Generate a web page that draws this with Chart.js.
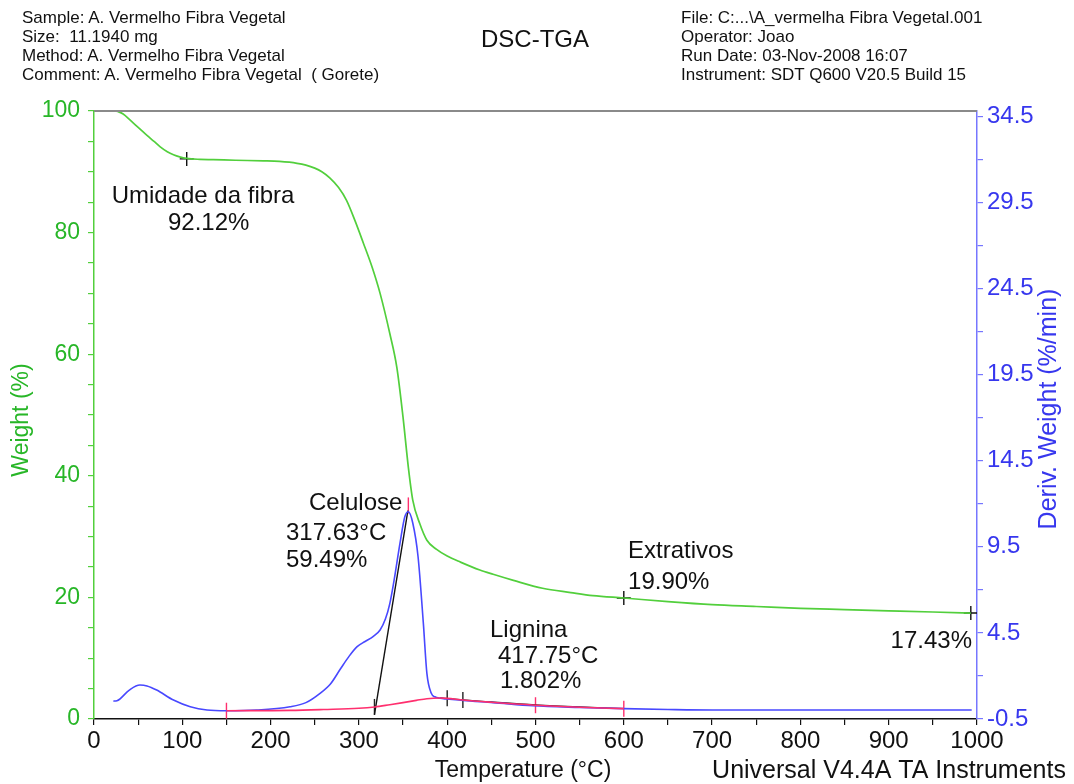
<!DOCTYPE html>
<html><head><meta charset="utf-8">
<script src="https://cdn.jsdelivr.net/npm/chart.js@4"></script>
<style>
html,body{margin:0;padding:0;background:#fff;}
#wrap{position:relative;width:1074px;height:784px;overflow:hidden;}
canvas{position:absolute;left:0;top:0;}
.hdr{position:absolute;font-family:"Liberation Sans",Arial,sans-serif;font-size:17px;line-height:19px;color:#111;white-space:pre;}
.ttl{position:absolute;font-family:"Liberation Sans",Arial,sans-serif;font-size:24px;color:#111;}
</style></head><body>
<div id="wrap">
<canvas id="c" width="1074" height="784"></canvas>
<div class="hdr" style="left:22px;top:8px">Sample: A. Vermelho Fibra Vegetal
Size:  11.1940 mg
Method: A. Vermelho Fibra Vegetal
Comment: A. Vermelho Fibra Vegetal  ( Gorete)</div>
<div class="ttl" style="left:481px;top:25px">DSC-TGA</div>
<div class="hdr" style="left:681px;top:8px">File: C:...\A_vermelha Fibra Vegetal.001
Operator: Joao
Run Date: 03-Nov-2008 16:07
Instrument: SDT Q600 V20.5 Build 15</div>
</div>
<script>
// ---- Data ----
const tgaTemp   = [24, 28, 33, 41, 50, 60, 68, 75, 83, 90, 97, 105, 120, 135, 160, 192, 210, 230, 240, 250, 258, 267, 277, 286, 296, 305, 315, 324, 335, 343, 350, 356, 361, 369, 377, 388, 400, 415, 437, 452, 475, 508, 540, 565, 600, 650, 700, 750, 800, 850, 900, 950, 993];
const tgaWeight = [100.0, 99.85, 99.5, 98.5, 97.3, 96.0, 95.0, 94.1, 93.3, 92.8, 92.45, 92.2, 92.05, 92.0, 91.9, 91.8, 91.7, 91.4, 91.1, 90.6, 90.0, 89.0, 87.4, 85.3, 81.8, 78.3, 74.3, 70.0, 63.4, 57.8, 49.6, 41.4, 36.0, 32.1, 29.4, 27.9, 26.8, 25.8, 24.5, 23.8, 22.8, 21.5, 20.8, 20.3, 19.9, 19.3, 18.8, 18.5, 18.2, 18.0, 17.8, 17.6, 17.43];

const dtgTemp  = [22, 26, 40, 52, 60, 71, 90, 109, 128, 150, 184, 222, 240, 256, 268, 279, 289, 298, 307, 316, 324, 330, 335, 340, 346.5, 352, 356, 361, 367, 373, 377, 382, 386, 392, 400, 418, 452, 497, 550, 600, 650, 700, 800, 900, 994];
const dtgValue = [0.54, 0.56, 1.18, 1.47, 1.42, 1.18, 0.60, 0.21, 0.02, -0.02, 0.02, 0.21, 0.45, 0.99, 1.55, 2.4, 3.15, 3.70, 4.0, 4.28, 4.67, 5.3, 6.2, 7.6, 9.7, 11.24, 11.53, 10.88, 8.92, 5.05, 2.15, 0.99, 0.79, 0.70, 0.66, 0.57, 0.45, 0.27, 0.17, 0.10, 0.05, 0.02, 0.02, 0.02, 0.02];

const baseTemp  = [150, 222, 260, 300, 318, 335, 350, 365, 377, 392, 400, 418, 450, 500, 550, 600];
const baseValue = [-0.02, 0.0, 0.05, 0.12, 0.2, 0.33, 0.45, 0.58, 0.68, 0.72, 0.70, 0.60, 0.47, 0.30, 0.18, 0.10];

const tangentTemp  = [317.6, 355.5];
const tangentValue = [-0.25, 11.6];

const integTemp  = [392, 418, 450, 500, 550, 600];
const integValue = [0.73, 0.61, 0.49, 0.32, 0.2, 0.11];

const crossTemp   = [105, 600, 993];
const crossWeight = [92.12, 19.90, 17.43];

const magTickTemp  = [150, 500, 600, 356];
const magTickValue = [-0.02, 0.30, 0.10, 11.9];
const blkTickTemp  = [317.63, 400, 417.75];
const blkTickValue = [0.2, 0.70, 0.60];

const xTicks  = [0, 100, 200, 300, 400, 500, 600, 700, 800, 900, 1000];
const yTicks  = [0, 20, 40, 60, 80, 100];
const y2Ticks = [-0.5, 4.5, 9.5, 14.5, 19.5, 24.5, 29.5, 34.5];

const notes = [
  {text: "Umidade da fibra", t: 20, w: 84.9, align: "left"},
  {text: "92.12%", t: 83.8, w: 80.4, align: "left"},
  {text: "Celulose", t: 243.5, w: 34.4, align: "left"},
  {text: "317.63°C", t: 217.4, w: 29.4, align: "left"},
  {text: "59.49%", t: 217.4, w: 25.0, align: "left"},
  {text: "Extrativos", t: 604.8, w: 26.5, align: "left"},
  {text: "19.90%", t: 604.8, w: 21.4, align: "left"},
  {text: "Lignina", t: 448.5, w: 13.5, align: "left"},
  {text: "417.75°C", t: 457.5, w: 9.2, align: "left"},
  {text: "1.802%", t: 459.8, w: 5.1, align: "left"},
  {text: "17.43%", t: 994.3, w: 11.7, align: "right"}
];

// ---- Build ----
const pts = (xs, ys) => xs.map((x, i) => ({x: x, y: ys[i]}));
const FONT = '"Liberation Sans", Arial, sans-serif';
const GREEN = '#52cf3c', GREEN_T = '#27b627';
const BLUE = '#4848ff', BLUE_T = '#3737ee', BLUE_AX = '#7676ff';
const RED = '#ff2f6e';

const minorY2 = [];
for (let v = -0.5; v <= 34.51; v += 2.5) minorY2.push(Math.round(v * 10) / 10);

const overlay = {
  id: 'overlay',
  afterDraw(chart) {
    const {ctx, chartArea: a, scales} = chart;
    ctx.save();
    ctx.strokeStyle = '#8a8a8a'; ctx.lineWidth = 2;
    ctx.beginPath(); ctx.moveTo(a.left, a.top); ctx.lineTo(a.right, a.top); ctx.stroke();
    ctx.fillStyle = '#111'; ctx.font = '24px ' + FONT; ctx.textBaseline = 'alphabetic';
    notes.forEach(n => {
      ctx.textAlign = n.align;
      ctx.fillText(n.text, scales.x.getPixelForValue(n.t), scales.y.getPixelForValue(n.w));
    });
    ctx.textAlign = 'center'; ctx.textBaseline = 'middle';
    ctx.font = '23px ' + FONT; ctx.fillStyle = '#111';
    ctx.fillText('Temperature (°C)', 523, 771);
    ctx.font = '25px ' + FONT;
    ctx.fillText('Universal V4.4A TA Instruments', 889, 771);
    ctx.font = '23px ' + FONT;
    ctx.save(); ctx.translate(22, 420); ctx.rotate(-Math.PI / 2);
    ctx.fillStyle = GREEN_T; ctx.fillText('Weight (%)', 0, 0); ctx.restore();
    ctx.save(); ctx.translate(1049, 409); ctx.rotate(-Math.PI / 2);
    ctx.font = '25px ' + FONT; ctx.fillStyle = BLUE_T; ctx.fillText('Deriv. Weight (%/min)', 0, 0); ctx.restore();
    ctx.restore();
  }
};

new Chart(document.getElementById('c'), {
  type: 'scatter',
  data: {
    datasets: [
      {data: pts(baseTemp, baseValue), yAxisID: 'y2', showLine: true, borderColor: RED, borderWidth: 1.6, pointRadius: 0, cubicInterpolationMode: 'monotone'},
      {data: pts(dtgTemp, dtgValue), yAxisID: 'y2', showLine: true, borderColor: BLUE, borderWidth: 1.6, pointRadius: 0, cubicInterpolationMode: 'monotone'},
      {data: pts(integTemp, integValue), yAxisID: 'y2', showLine: true, borderColor: '#222', borderWidth: 1.2, pointRadius: 0, cubicInterpolationMode: 'monotone'},
      {data: pts(tangentTemp, tangentValue), yAxisID: 'y2', showLine: true, borderColor: '#111', borderWidth: 1.4, pointRadius: 0},
      {data: pts(tgaTemp, tgaWeight), yAxisID: 'y', showLine: true, borderColor: GREEN, borderWidth: 1.7, pointRadius: 0, cubicInterpolationMode: 'monotone'},
      {data: pts(magTickTemp, magTickValue), yAxisID: 'y2', showLine: false, pointStyle: 'line', rotation: 90, pointRadius: 8, borderColor: RED, borderWidth: 1.4},
      {data: pts(blkTickTemp, blkTickValue), yAxisID: 'y2', showLine: false, pointStyle: 'line', rotation: 90, pointRadius: 8, borderColor: '#222', borderWidth: 1.4},
      {data: pts(crossTemp, crossWeight), yAxisID: 'y', showLine: false, pointStyle: 'cross', pointRadius: 7, borderColor: '#111', borderWidth: 1.4}
    ]
  },
  options: {
    responsive: false, animation: false,
    layout: {padding: {top: 111, left: 0, right: 0, bottom: 0}},
    plugins: {legend: {display: false}, tooltip: {enabled: false}},
    scales: {
      x: {
        type: 'linear', position: 'bottom', min: 0, max: 1000,
        afterBuildTicks: s => { const t = []; for (let v = 0; v <= 1000; v += 50) t.push({value: v}); s.ticks = t; },
        afterFit: s => { s.height = 65; },
        ticks: {color: '#111', font: {size: 24, family: FONT}, padding: 2, maxRotation: 0, autoSkip: false,
          callback: v => xTicks.includes(v) ? String(v) : ''},
        grid: {drawOnChartArea: false, color: '#111', tickLength: 6, lineWidth: 1.2},
        border: {color: '#111', width: 1.5}
      },
      y: {
        type: 'linear', position: 'left', min: 0, max: 100,
        afterBuildTicks: s => { const t = []; for (let v = 0; v <= 100; v += 5) t.push({value: v}); s.ticks = t; },
        afterFit: s => { s.width = 94; },
        ticks: {color: GREEN_T, font: {size: 23, family: FONT}, padding: 8, autoSkip: false,
          callback: v => yTicks.includes(v) ? String(v) : ''},
        grid: {drawOnChartArea: false, color: GREEN, tickLength: 6, lineWidth: 1.2},
        border: {color: GREEN, width: 1.5}
      },
      y2: {
        type: 'linear', position: 'right', min: -0.5, max: 34.8,
        afterBuildTicks: s => { s.ticks = minorY2.map(v => ({value: v})); },
        afterFit: s => { s.width = 97; },
        ticks: {color: BLUE_T, font: {size: 24, family: FONT}, padding: 4, autoSkip: false,
          callback: v => y2Ticks.some(t => Math.abs(t - v) < 1e-6) ? v.toFixed(1) : ''},
        grid: {drawOnChartArea: false, color: BLUE_AX, tickLength: 6, lineWidth: 1.2},
        border: {color: BLUE_AX, width: 1.5}
      }
    }
  },
  plugins: [overlay]
});
</script>
</body></html>
